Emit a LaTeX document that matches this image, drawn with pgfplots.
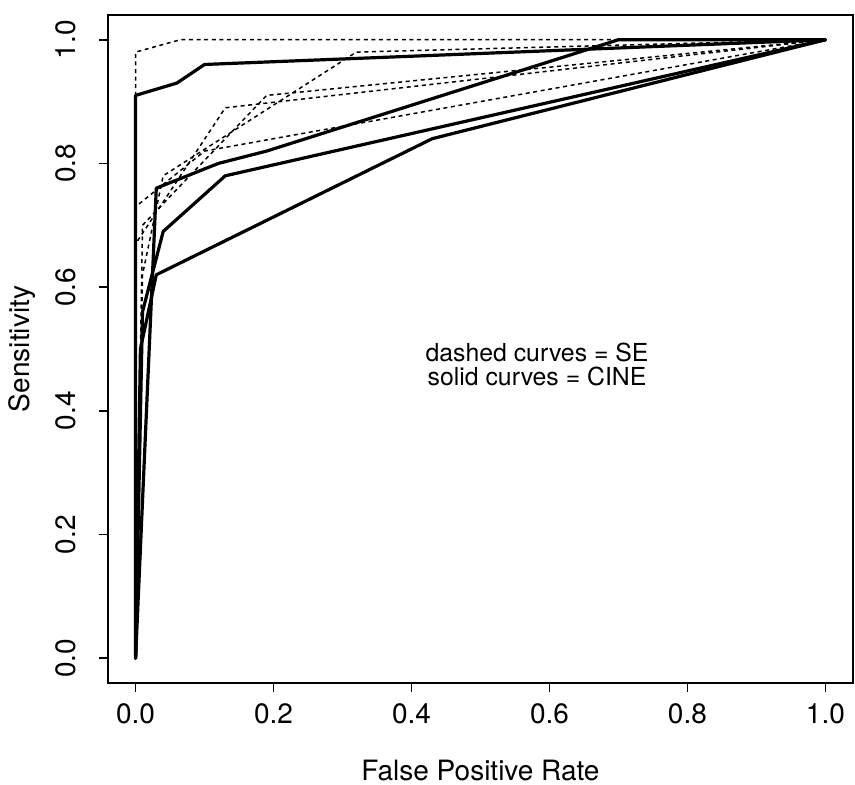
\documentclass[border=0pt]{standalone}
\usepackage{fontspec}
\setmainfont{TeX Gyre Heros}
\usepackage{pgfplots}
\pgfplotsset{compat=1.18}
\begin{document}
\begin{tikzpicture}
\begin{axis}[
  scale only axis,
  width=372.5pt, height=334pt,
  xmin=-0.04, xmax=1.04, ymin=-0.04, ymax=1.04,
  axis line style={line width=0.9pt},
  xtick={0,0.2,0.4,0.6,0.8,1.0},
  ytick={0,0.2,0.4,0.6,0.8,1.0},
  tick align=outside,
  major tick length=4.5pt,
  tick style={line width=0.9pt, black},
  xtick pos=bottom, ytick pos=left,
  /pgf/number format/.cd, fixed, fixed zerofill, precision=1, assume math mode=true,
  /pgfplots/.cd,
  tick label style={font=\fontsize{14}{16}\selectfont},
  xticklabel style={anchor=center, yshift=-11pt},
  yticklabel style={rotate=90, anchor=center, yshift=16.5pt},
  xlabel={False Positive Rate},
  ylabel={Sensitivity},
  xlabel style={font=\fontsize{14}{16}\selectfont, inner sep=0pt, at={(axis description cs:0.5,-0.1317)}, anchor=center},
  ylabel style={font=\fontsize{14}{16}\selectfont, inner sep=0pt, at={(axis description cs:-0.1154,0.5)}, anchor=center},
  clip=false,
]
\coordinate (sw) at (rel axis cs:0,0);
% dashed curves (SE)
\addplot[black, line width=0.75pt, dash pattern=on 2pt off 1.8pt] coordinates {(0,0) (0,0.98) (0.065,1.0) (1,1)};
\addplot[black, line width=0.75pt, dash pattern=on 2pt off 1.8pt] coordinates {(0,0) (0,0.73) (0.10,0.82) (1,1)};
\addplot[black, line width=0.75pt, dash pattern=on 2pt off 1.8pt] coordinates {(0,0) (0,0.67) (0.13,0.89) (1,1)};
\addplot[black, line width=0.75pt, dash pattern=on 2pt off 1.8pt] coordinates {(0,0) (0.01,0.70) (0.19,0.91) (1,1)};
\addplot[black, line width=0.75pt, dash pattern=on 2pt off 1.8pt] coordinates {(0,0) (0.01,0.62) (0.04,0.78) (0.32,0.98) (1,1)};
% solid curves (CINE)
\addplot[black, line width=1.6pt, line join=round, line cap=round] coordinates {(0,0) (0,0.91) (0.06,0.93) (0.10,0.96) (1,1)};
\addplot[black, line width=1.6pt, line join=round, line cap=round] coordinates {(0,0) (0.03,0.76) (0.12,0.80) (0.19,0.82) (0.70,1.0) (1,1)};
\addplot[black, line width=1.6pt, line join=round, line cap=round] coordinates {(0,0) (0.01,0.56) (0.04,0.69) (0.13,0.78) (1,1)};
\addplot[black, line width=1.6pt, line join=round, line cap=round] coordinates {(0,0) (0.007,0.50) (0.03,0.62) (0.43,0.84) (1,1)};
\node[align=center, font=\fontsize{12.4}{12}\selectfont] at (axis cs:0.582,0.475) {dashed curves = SE\\solid curves = CINE};
\end{axis}
\pgfresetboundingbox
\path[use as bounding box] (sw) ++(-54pt,-51pt) rectangle ++(427.5pt,392.5pt);
\end{tikzpicture}
\end{document}
